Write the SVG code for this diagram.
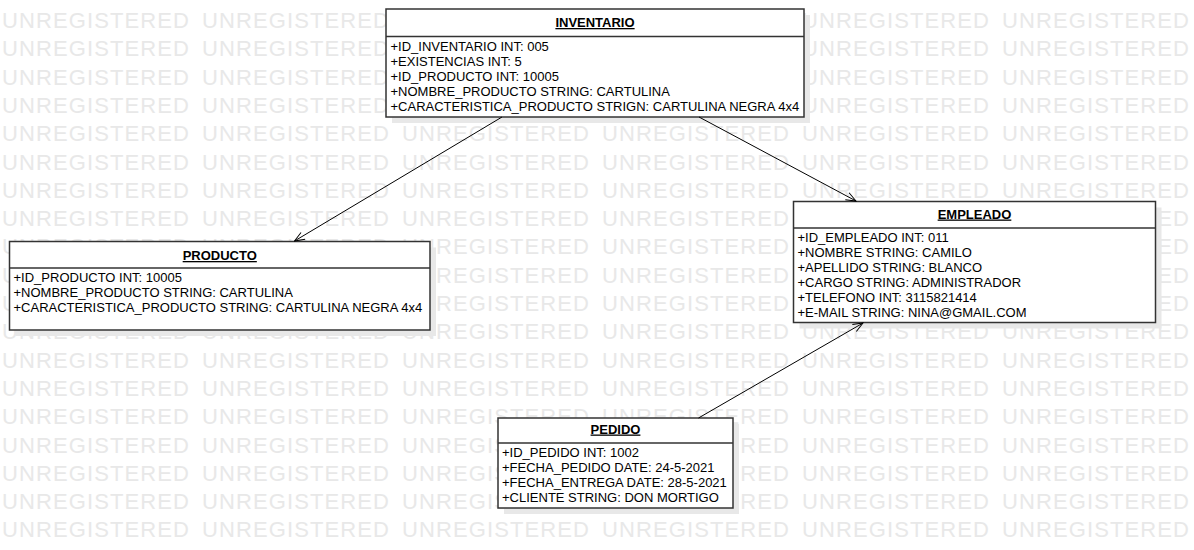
<svg xmlns="http://www.w3.org/2000/svg" xmlns:xlink="http://www.w3.org/1999/xlink" width="1194" height="550" viewBox="0 0 1194 550">
<style>
.wm{font-family:"Liberation Sans",Arial,sans-serif;font-size:22px;letter-spacing:1.1px;fill:#e8e8e8}
.box{fill:#fff;stroke:#333;stroke-width:1.5}
.shadow{fill:#e8e8e8}
.sep{stroke:#333;stroke-width:1.5}
.title{font-family:"Liberation Sans",Arial,sans-serif;font-size:13px;font-weight:bold;text-anchor:middle;text-decoration:underline;fill:#000}
.attr{font-family:"Liberation Sans",Arial,sans-serif;font-size:13px;fill:#000}
.conn{stroke:#000;stroke-width:1;fill:none}
</style>
<defs>
<marker id="open" viewBox="0 0 12 10" refX="11" refY="5" markerWidth="12" markerHeight="10" markerUnits="userSpaceOnUse" orient="auto">
<path d="M1,1 L11,5 L1,9" fill="none" stroke="#000" stroke-width="1"/>
</marker>
<text id="wmrow" class="wm" y="28"><tspan x="2">UNREGISTERED</tspan><tspan x="202">UNREGISTERED</tspan><tspan x="402">UNREGISTERED</tspan><tspan x="602">UNREGISTERED</tspan><tspan x="802">UNREGISTERED</tspan><tspan x="1002">UNREGISTERED</tspan></text>
</defs>
<rect width="1194" height="550" fill="#fff"/>
<g id="watermark">
<use xlink:href="#wmrow" y="0"/>
<use xlink:href="#wmrow" y="28.3"/>
<use xlink:href="#wmrow" y="56.6"/>
<use xlink:href="#wmrow" y="84.9"/>
<use xlink:href="#wmrow" y="113.2"/>
<use xlink:href="#wmrow" y="141.5"/>
<use xlink:href="#wmrow" y="169.8"/>
<use xlink:href="#wmrow" y="198.1"/>
<use xlink:href="#wmrow" y="226.4"/>
<use xlink:href="#wmrow" y="254.7"/>
<use xlink:href="#wmrow" y="283"/>
<use xlink:href="#wmrow" y="311.3"/>
<use xlink:href="#wmrow" y="339.6"/>
<use xlink:href="#wmrow" y="367.9"/>
<use xlink:href="#wmrow" y="396.2"/>
<use xlink:href="#wmrow" y="424.5"/>
<use xlink:href="#wmrow" y="452.8"/>
<use xlink:href="#wmrow" y="481.1"/>
<use xlink:href="#wmrow" y="509.4"/>
</g>
<g id="inventario">
<rect class="shadow" x="392" y="15" width="418" height="108"/>
<rect class="box" x="386" y="9" width="418" height="108"/>
<line class="sep" x1="386" y1="36.5" x2="804" y2="36.5"/>
<text class="title" x="595" y="27">INVENTARIO</text>
<text class="attr" x="390.5" y="50.7">+ID_INVENTARIO INT: 005</text>
<text class="attr" x="390.5" y="65.7">+EXISTENCIAS INT: 5</text>
<text class="attr" x="390.5" y="80.7">+ID_PRODUCTO INT: 10005</text>
<text class="attr" x="390.5" y="95.7">+NOMBRE_PRODUCTO STRING: CARTULINA</text>
<text class="attr" x="390.5" y="110.7">+CARACTERISTICA_PRODUCTO STRIGN: CARTULINA NEGRA 4x4</text>
</g>
<g id="producto">
<rect class="shadow" x="15.5" y="247.5" width="420.5" height="88.5"/>
<rect class="box" x="9.5" y="241.5" width="420.5" height="88.5"/>
<line class="sep" x1="9.5" y1="268" x2="430" y2="268"/>
<text class="title" x="219.75" y="260">PRODUCTO</text>
<text class="attr" x="13.5" y="281.7">+ID_PRODUCTO INT: 10005</text>
<text class="attr" x="13.5" y="296.7">+NOMBRE_PRODUCTO STRING: CARTULINA</text>
<text class="attr" x="13.5" y="311.7">+CARACTERISTICA_PRODUCTO STRING: CARTULINA NEGRA 4x4</text>
</g>
<g id="empleado">
<rect class="shadow" x="799.5" y="207.5" width="362" height="121"/>
<rect class="box" x="793.5" y="201.5" width="362" height="121"/>
<line class="sep" x1="793.5" y1="228" x2="1155.5" y2="228"/>
<text class="title" x="974.5" y="218.5">EMPLEADO</text>
<text class="attr" x="797.5" y="241.7">+ID_EMPLEADO INT: 011</text>
<text class="attr" x="797.5" y="256.7">+NOMBRE STRING: CAMILO</text>
<text class="attr" x="797.5" y="271.7">+APELLIDO STRING: BLANCO</text>
<text class="attr" x="797.5" y="286.7">+CARGO STRING: ADMINISTRADOR</text>
<text class="attr" x="797.5" y="301.7">+TELEFONO INT: 3115821414</text>
<text class="attr" x="797.5" y="316.7">+E-MAIL STRING: NINA@GMAIL.COM</text>
</g>
<g id="pedido">
<rect class="shadow" x="504" y="424" width="235" height="90"/>
<rect class="box" x="498" y="418" width="235" height="90"/>
<line class="sep" x1="498" y1="443" x2="733" y2="443"/>
<text class="title" x="615.5" y="433.5">PEDIDO</text>
<text class="attr" x="502" y="456.5">+ID_PEDIDO INT: 1002</text>
<text class="attr" x="502" y="471.5">+FECHA_PEDIDO DATE: 24-5-2021</text>
<text class="attr" x="502" y="486.5">+FECHA_ENTREGA DATE: 28-5-2021</text>
<text class="attr" x="502" y="501.5">+CLIENTE STRING: DON MORTIGO</text>
</g>
<g id="connectors">
<line class="conn" x1="502" y1="117" x2="294.5" y2="241" marker-end="url(#open)"/>
<line class="conn" x1="699" y1="117" x2="856" y2="201" marker-end="url(#open)"/>
<line class="conn" x1="698.5" y1="418" x2="863" y2="323" marker-end="url(#open)"/>
</g>
</svg>
